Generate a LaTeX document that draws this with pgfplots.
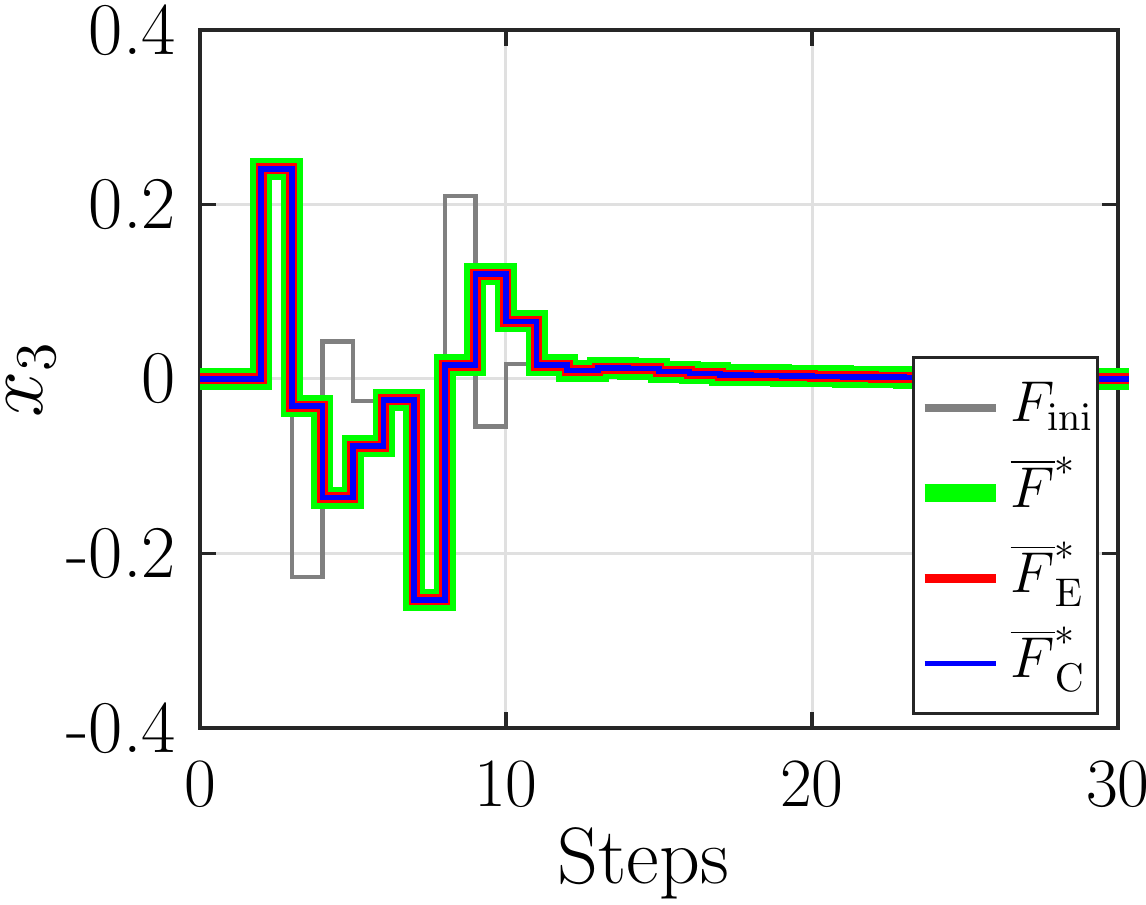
\documentclass[border=0pt]{standalone}
\usepackage{pgfplots}
\pgfplotsset{compat=1.18}
\usetikzlibrary{calc}
\definecolor{mgreen}{RGB}{0,255,0}
\definecolor{mred}{RGB}{255,0,0}
\definecolor{mblue}{RGB}{0,0,255}
\definecolor{mgray}{RGB}{128,128,128}
\pgfplotstableread{
x y
0 0
1 0
2 0.241
3 -0.031
4 -0.136
5 -0.077
6 -0.024
7 -0.253
8 0.016
9 0.120
10 0.066
11 0.016
12 0.0095
13 0.0125
14 0.012
15 0.0085
16 0.0065
17 0.0045
18 0.004
19 0.0035
20 0.003
21 0.0025
22 0.002
23 0.0015
24 0.001
25 0.0008
26 0.0006
27 0.0005
28 0.0004
29 0.0003
30 0.0002
30.35 0.0002
}\mainT
\pgfplotstableread{
x y
0 0
1 0
2 0.241
3 -0.227
4 0.043
5 -0.0255
6 -0.024
7 -0.253
8 0.210
9 -0.0545
10 0.017
11 0.016
12 0.0095
13 0.0125
14 0.012
15 0.0085
16 0.0065
17 0.0045
18 0.004
19 0.0035
20 0.003
21 0.0025
22 0.002
23 0.0015
24 0.001
25 0.0008
26 0.0006
27 0.0005
28 0.0004
29 0.0003
30 0.0002
30.35 0.0002
}\iniT
\begin{document}
\begin{tikzpicture}
\begin{axis}[
  scale only axis, width=229.5pt, height=174.5pt,
  xmin=0, xmax=30, ymin=-0.4, ymax=0.4,
  xtick={0,10,20,30}, ytick={-0.4,-0.2,0,0.2,0.4},
  yticklabels={\textrm{-0.4},\textrm{-0.2},\textrm{0},\textrm{0.2},\textrm{0.4}},
  xmajorgrids, ymajorgrids,
  grid style={black!12, line width=0.75pt},
  axis line style={black!85, line width=0.9pt},
  tick style={black!85, line width=0.9pt},
  tick align=inside, major tick length=4pt,
  ticklabel style={font=\fontsize{18.6}{21}\selectfont},
  xticklabel style={yshift=-5pt},
  yticklabel style={xshift=-2.5pt},
  xlabel={Steps}, ylabel={$x_3$},
  label style={font=\fontsize{20}{24}\selectfont},
  xlabel style={at={(axis description cs:0.483,-0.2221)}, anchor=base},
  ylabel style={at={(axis description cs:-0.184,0.5)}, anchor=center},
  clip=false,
  legend cell align=left,
  legend style={
    at={(axis description cs:1,0)}, anchor=south east, xshift=-4.75pt, yshift=3.25pt,
    draw=black!85, line width=0.75pt, fill=white,
    font=\fontsize{13.7}{16}\selectfont,
    inner xsep=0.5pt, inner ysep=3pt, row sep=2.3pt,
    nodes={text height=11pt, text depth=4pt, inner xsep=0.5pt, inner ysep=2pt},
  },
]
\addplot[const plot, draw=mgray, line width=1.1pt,
  legend image code/.code={\draw[mgray, line width=2pt] (0pt,0pt) -- (17.7pt,0pt);}]
  table[x=x,y=y] {\iniT};
\addlegendentry{\hspace{1pt}$F_{\mathrm{ini}}$\hspace{3pt}}
\addplot[const plot, draw=mgreen, line width=5.5pt,
  legend image code/.code={\draw[mgreen, line width=4.5pt] (0pt,0pt) -- (17.7pt,0pt);}]
  table[x=x,y=y] {\mainT};
\addlegendentry{\hspace{1pt}$\overline{F}^{*}$}
\addplot[const plot, draw=mred, line width=2.75pt,
  legend image code/.code={\draw[mred, line width=2.25pt] (0pt,0pt) -- (17.7pt,0pt);}]
  table[x=x,y=y] {\mainT};
\addlegendentry{\hspace{1pt}$\overline{F}^{*}_{\mathrm{E}}$}
\addplot[const plot, draw=mblue, line width=1.4pt,
  legend image code/.code={\draw[mblue, line width=1.3pt] (0pt,0pt) -- (17.7pt,0pt);}]
  table[x=x,y=y] {\mainT};
\addlegendentry{\hspace{1pt}$\overline{F}^{*}_{\mathrm{C}}$}
\end{axis}
\pgfresetboundingbox
\path ($(current axis.south west)+(-50pt,-44.25pt)$) rectangle ($(current axis.north east)+(7pt,7.5pt)$);
\end{tikzpicture}
\end{document}
